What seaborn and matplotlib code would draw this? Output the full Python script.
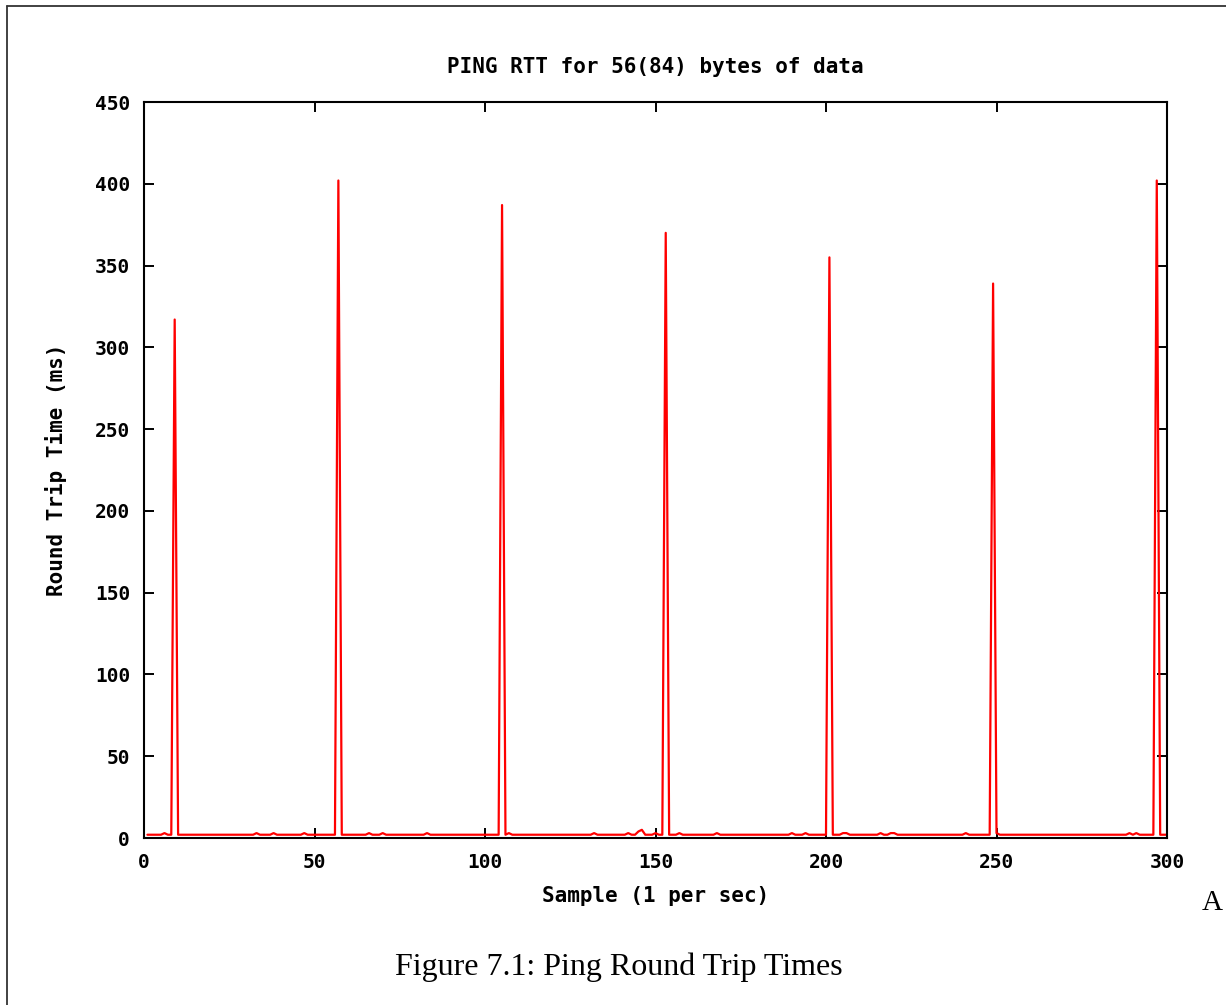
import matplotlib
matplotlib.use("Agg")
import matplotlib.pyplot as plt
from matplotlib.lines import Line2D
import seaborn as sns
import pandas as pd

title = "PING RTT for 56(84) bytes of data"
x_label = "Sample (1 per sec)"
y_label = "Round Trip Time (ms)"
caption = "Figure 7.1: Ping Round Trip Times"

x_ticks = [0, 50, 100, 150, 200, 250, 300]
y_ticks = [0, 50, 100, 150, 200, 250, 300, 350, 400, 450]

samples = list(range(1, 301))
rtt_ms = [
    2, 2, 2, 2, 2, 3, 2, 2, 317, 2, 2, 2, 2, 2, 2, 2, 2, 2, 2, 2,
    2, 2, 2, 2, 2, 2, 2, 2, 2, 2, 2, 2, 3, 2, 2, 2, 2, 3, 2, 2,
    2, 2, 2, 2, 2, 2, 3, 2, 2, 2, 2, 2, 2, 2, 2, 2, 402, 2, 2, 2,
    2, 2, 2, 2, 2, 3, 2, 2, 2, 3, 2, 2, 2, 2, 2, 2, 2, 2, 2, 2,
    2, 2, 3, 2, 2, 2, 2, 2, 2, 2, 2, 2, 2, 2, 2, 2, 2, 2, 2, 2,
    2, 2, 2, 2, 387, 2, 3, 2, 2, 2, 2, 2, 2, 2, 2, 2, 2, 2, 2, 2,
    2, 2, 2, 2, 2, 2, 2, 2, 2, 2, 2, 3, 2, 2, 2, 2, 2, 2, 2, 2,
    2, 3, 2, 2, 4, 5, 2, 2, 2, 3, 2, 2, 370, 2, 2, 2, 3, 2, 2, 2,
    2, 2, 2, 2, 2, 2, 2, 3, 2, 2, 2, 2, 2, 2, 2, 2, 2, 2, 2, 2,
    2, 2, 2, 2, 2, 2, 2, 2, 2, 3, 2, 2, 2, 3, 2, 2, 2, 2, 2, 2,
    355, 2, 2, 2, 3, 3, 2, 2, 2, 2, 2, 2, 2, 2, 2, 3, 2, 2, 3, 3,
    2, 2, 2, 2, 2, 2, 2, 2, 2, 2, 2, 2, 2, 2, 2, 2, 2, 2, 2, 2,
    3, 2, 2, 2, 2, 2, 2, 2, 339, 3, 2, 2, 2, 2, 2, 2, 2, 2, 2, 2,
    2, 2, 2, 2, 2, 2, 2, 2, 2, 2, 2, 2, 2, 2, 2, 2, 2, 2, 2, 2,
    2, 2, 2, 2, 2, 2, 2, 2, 3, 2, 3, 2, 2, 2, 2, 2, 402, 2, 2, 2,
]

df = pd.DataFrame({"sample": samples, "rtt": rtt_ms})

sns.set_theme(style="white")
plt.rcParams["font.family"] = ["DejaVu Sans Mono", "DejaVu Sans"]
plt.rcParams["font.weight"] = "bold"
plt.rcParams["text.color"] = "black"
plt.rcParams["axes.labelcolor"] = "black"
plt.rcParams["xtick.color"] = "black"
plt.rcParams["ytick.color"] = "black"

fig = plt.figure(figsize=(12.26, 10.05), dpi=100)
fig.patch.set_facecolor("white")
ax = fig.add_axes([144 / 1226, (1005 - 838) / 1005, (1167 - 144) / 1226, (838 - 102) / 1005])
ax.set_facecolor("white")

sns.lineplot(data=df, x="sample", y="rtt", ax=ax, color="#ff0000", linewidth=1.6)

ax.set_xlim(0, 300)
ax.set_ylim(0, 450)
ax.set_xticks(x_ticks)
ax.set_yticks(y_ticks)
ax.set_xticklabels([str(t) for t in x_ticks], fontsize=14, fontweight="bold")
ax.set_yticklabels([str(t) for t in y_ticks], fontsize=14, fontweight="bold")
ax.tick_params(axis="both", which="major", direction="in", length=7, width=1.4,
               color="black", labelcolor="black",
               top=True, right=True, bottom=True, left=True)
ax.tick_params(axis="x", pad=11)
ax.tick_params(axis="y", pad=10)
for s in ax.spines.values():
    s.set_visible(True)
    s.set_color("black")
    s.set_linewidth(1.5)

ax.set_title(title, fontsize=15, fontweight="bold", pad=21, color="black")
ax.set_xlabel(x_label, fontsize=15, fontweight="bold", labelpad=10, color="black")
ax.set_ylabel(y_label, fontsize=15, fontweight="bold", labelpad=20, color="black")

# document frame lines
fig.add_artist(Line2D([7 / 1226, 7 / 1226], [0, 1 - 6 / 1005], transform=fig.transFigure,
                      color="#333333", linewidth=1.3))
fig.add_artist(Line2D([7 / 1226, 1], [1 - 6 / 1005, 1 - 6 / 1005], transform=fig.transFigure,
                      color="#333333", linewidth=1.3))

fig.text(619 / 1226, 1 - 967 / 1005, caption, ha="center", va="center",
         fontsize=23, family=["Liberation Serif", "DejaVu Serif"], fontweight="normal",
         color="black")
fig.text(1202 / 1226, 1 - 903 / 1005, "A", ha="left", va="center",
         fontsize=21, family=["Liberation Serif", "DejaVu Serif"], fontweight="normal",
         color="black")

fig.savefig("out.png", dpi=100, facecolor="white")
